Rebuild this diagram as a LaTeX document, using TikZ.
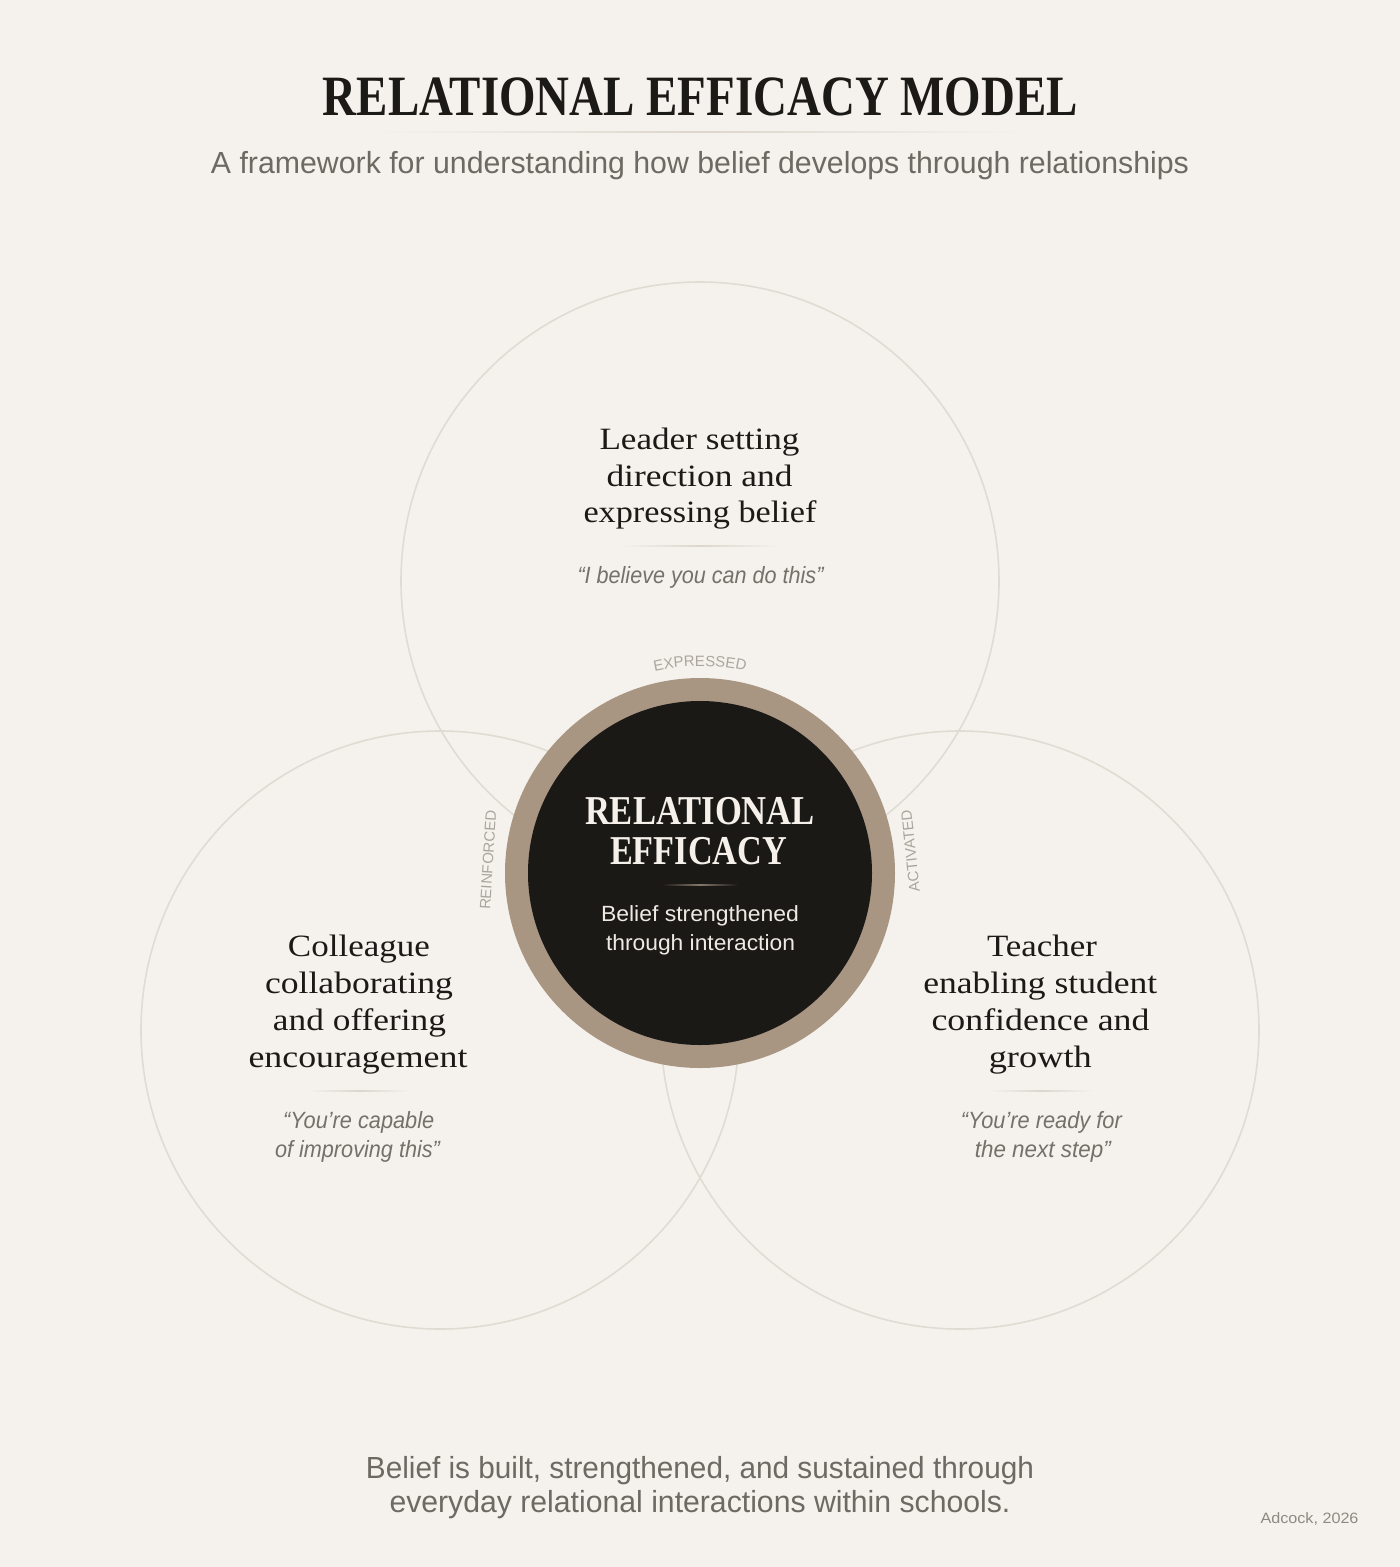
\documentclass[tikz,border=0pt]{standalone}
\usepackage{fontspec}
\setmainfont{Liberation Serif}
\setsansfont{Liberation Sans}
\usepackage{graphicx}
\usetikzlibrary{decorations.text}
\definecolor{bgc}{HTML}{F5F2ED}
\definecolor{circc}{HTML}{E0DBD3}
\definecolor{ink}{HTML}{1C1A17}
\definecolor{subgray}{HTML}{6E6A63}
\definecolor{quotegray}{HTML}{75706A}
\definecolor{labelgray}{HTML}{ABA59D}
\definecolor{ringc}{HTML}{A89683}
\definecolor{discc}{HTML}{1B1916}
\definecolor{discink}{HTML}{F5F1EA}
\definecolor{discsub}{HTML}{EEEAE3}
\definecolor{sepc}{HTML}{DCD6CD}
\definecolor{discsep}{HTML}{85796B}
\definecolor{creditc}{HTML}{8E8982}
\newcommand{\fitw}[2]{\resizebox{#1pt}{\height}{#2}}
\tikzset{
  txt/.style={inner sep=0pt, outer sep=0pt, anchor=base},
  titlef/.style={txt, text=ink, font=\fontsize{57}{60}\selectfont\bfseries},
  subf/.style={txt, text=subgray, font=\sffamily\fontsize{30.5}{34}\selectfont},
  headf/.style={txt, text=ink, font=\fontsize{31}{37}\selectfont},
  quotef/.style={txt, text=quotegray, font=\sffamily\itshape\fontsize{23.5}{29}\selectfont},
  discf/.style={txt, text=discink, font=\fontsize{41}{44}\selectfont\bfseries},
  discsubf/.style={txt, text=discsub, font=\sffamily\fontsize{22}{29}\selectfont},
  bigcirc/.style={circle, draw=circc, line width=1.6pt, minimum size=598pt, inner sep=0pt},
  arclabel/.style={decorate, decoration={text along path, text align=center, text color=labelgray}},
  sidelabel/.style={inner sep=0pt, outer sep=0pt, text=labelgray, font=\sffamily\fontsize{15}{15}\selectfont},
}
\begin{document}
\begin{tikzpicture}[x=1pt,y=-1pt]
\fill[bgc] (0,0) rectangle (1400,1567);
\useasboundingbox (0,0) rectangle (1400,1567);

% title block
\node[titlef] (title) at (700.5,115) {\fitw{755}{RELATIONAL EFFICACY MODEL}};
\shade[left color=bgc, right color=bgc, middle color=sepc] (373,131.3) rectangle (1027,132.7);
\node[subf] (subtitle) at (700,173) {\fitw{978}{A framework for understanding how belief develops through relationships}};

% three circles
\node[bigcirc] (leader) at (700,581) {};
\node[bigcirc] (colleague) at (440,1030) {};
\node[bigcirc] (teacher) at (960,1030) {};

% central disc
\node[circle, fill=ringc, minimum size=390pt, inner sep=0pt] (ring) at (700,873) {};
\node[circle, fill=discc, minimum size=344pt, inner sep=0pt] (disc) at (ring.center) {};

\node[discf] (d1) at (700,824) {\fitw{230}{RELATIONAL}};
\node[discf] (d2) at (698.5,864) {\fitw{177}{EFFICACY}};
\shade[left color=discc, right color=discc, middle color=discsep] (662,884.4) rectangle (738,885.6);
\node[discsubf] (d3) at (700,921) {\fitw{198}{Belief strengthened}};
\node[discsubf] (d4) at (700.5,950) {\fitw{189}{through interaction}};

% arc labels
\begin{scope}[shift={(700,873)}, x=1pt, y=1pt]
  \path[arclabel, decoration={text={|\sffamily\fontsize{15}{15}\selectfont|EXPRESSED}}]
    (106:207) arc[start angle=106, end angle=74, radius=207];
\end{scope}
\node[sidelabel, rotate=86.5] (reinf) at (488,860) {REINFORCED};
\node[sidelabel, rotate=96] (activ) at (910.5,851) {ACTIVATED};

% leader text
\node[headf] (l1) at (699.5,449) {\fitw{200}{Leader setting}};
\node[headf] (l2) at (699.5,486) {\fitw{186}{direction and}};
\node[headf] (l3) at (700,522) {\fitw{233}{expressing belief}};
\shade[left color=bgc, right color=bgc, middle color=sepc] (620,545.3) rectangle (780,546.7);
\node[quotef] (lq) at (700.5,583) {\fitw{246}{“I believe you can do this”}};

% colleague text
\node[headf] (c1) at (359,956) {\fitw{142}{Colleague}};
\node[headf] (c2) at (359,993) {\fitw{188}{collaborating}};
\node[headf] (c3) at (359.5,1030) {\fitw{173}{and offering}};
\node[headf] (c4) at (358,1067) {\fitw{219}{encouragement}};
\shade[left color=bgc, right color=bgc, middle color=sepc] (306,1090.3) rectangle (412,1091.7);
\node[quotef] (cq1) at (358.7,1128) {\fitw{151}{“You’re capable}};
\node[quotef] (cq2) at (357.5,1157) {\fitw{165}{of improving this”}};

% teacher text
\node[headf] (t1) at (1042,956) {\fitw{110}{Teacher}};
\node[headf] (t2) at (1040.3,993) {\fitw{234}{enabling student}};
\node[headf] (t3) at (1040.5,1030) {\fitw{218}{confidence and}};
\node[headf] (t4) at (1040.3,1067) {\fitw{103}{growth}};
\shade[left color=bgc, right color=bgc, middle color=sepc] (988,1090.3) rectangle (1094,1091.7);
\node[quotef] (tq1) at (1041.3,1128) {\fitw{161}{“You’re ready for}};
\node[quotef] (tq2) at (1042.8,1157) {\fitw{136}{the next step”}};

% bottom
\node[subf] (b1) at (700,1478) {\fitw{668}{Belief is built, strengthened, and sustained through}};
\node[subf] (b2) at (700,1512) {\fitw{621}{everyday relational interactions within schools.}};
\node[txt, text=creditc, font=\sffamily\fontsize{15}{15}\selectfont] (credit) at (1309.5,1523) {\fitw{98}{Adcock, 2026}};
\end{tikzpicture}
\end{document}
